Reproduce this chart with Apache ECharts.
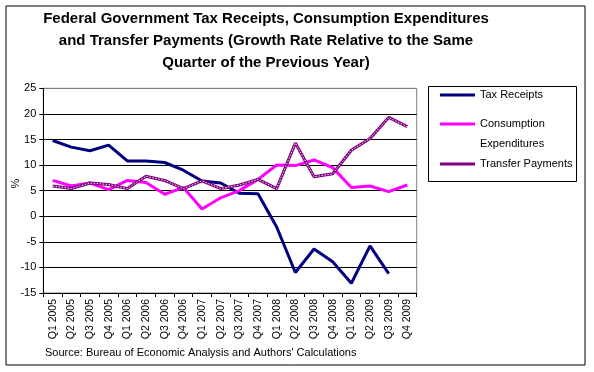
<!DOCTYPE html>
<html><head><meta charset="utf-8">
<script src="https://cdn.jsdelivr.net/npm/echarts@6/dist/echarts.min.js"></script>
<style>html,body{margin:0;padding:0;background:#fff}#c{width:594px;height:372px}</style>
</head><body><div id="c"></div>
<script>
var categories = ['Q1 2005','Q2 2005','Q3 2005','Q4 2005','Q1 2006','Q2 2006','Q3 2006','Q4 2006','Q1 2007','Q2 2007','Q3 2007','Q4 2007','Q1 2008','Q2 2008','Q3 2008','Q4 2008','Q1 2009','Q2 2009','Q3 2009','Q4 2009'];
var taxReceipts = [14.8, 13.5, 12.8, 13.9, 10.8, 10.8, 10.5, 9.0, 6.9, 6.5, 4.5, 4.4, -2.1, -11.0, -6.4, -8.9, -13.1, -5.8, -11.2, null];
var consumptionExpenditures = [7.0, 5.9, 6.5, 5.2, 7.0, 6.6, 4.3, 5.6, 1.4, 3.6, 5.0, 7.2, 10.0, 9.9, 11.0, 9.5, 5.6, 5.9, 4.8, 6.1];
var transferPayments = [5.9, 5.4, 6.5, 6.2, 5.4, 7.8, 7.0, 5.4, 6.9, 5.4, 6.1, 7.2, 5.4, 14.3, 7.7, 8.3, 12.9, 15.2, 19.3, 17.5];
var yTicks = {min: -15, max: 25, interval: 5};
var titleText = 'Federal Government Tax Receipts, Consumption Expenditures\nand Transfer Payments (Growth Rate Relative to the Same\nQuarter of the Previous Year)';
var sourceText = "Source: Bureau of Economic Analysis and Authors' Calculations";

var FONT = '"Liberation Sans", Arial, sans-serif';
var chart = echarts.init(document.getElementById('c'), null, {renderer: 'canvas'});
var splitColors = [];
for (var v = yTicks.min; v <= yTicks.max; v += yTicks.interval) splitColors.push(v === yTicks.max ? '#808080' : '#000000');

var legendCommon = {
  orient: 'vertical', left: 440, padding: 0,
  itemWidth: 35, itemHeight: 3, icon: 'rect',
  textStyle: {fontFamily: FONT, fontSize: 11, color: '#000'}
};

chart.setOption({
  backgroundColor: '#ffffff',
  animation: false,
  textStyle: {fontFamily: FONT},
  title: [{
    text: titleText, left: 266, top: 8, textAlign: 'center', padding: 0,
    textStyle: {fontFamily: FONT, fontSize: 15, fontWeight: 'bold', color: '#000', lineHeight: 22}
  }, {
    text: sourceText, left: 45, top: 347, padding: 0,
    textStyle: {fontFamily: FONT, fontSize: 11, fontWeight: 'normal', color: '#000'}
  }],
  graphic: [{
    type: 'rect', shape: {x: 6, y: 6, width: 579, height: 359},
    style: {fill: null, stroke: '#000', lineWidth: 1}, silent: true
  }, {
    type: 'rect', shape: {x: 428.5, y: 86.5, width: 148, height: 95},
    style: {fill: '#fff', stroke: '#000', lineWidth: 1}, silent: true, z: -1
  }],
  legend: [
    Object.assign({}, legendCommon, {data: ['Tax Receipts'], top: 89.5}),
    Object.assign({}, legendCommon, {
      data: ['Consumption Expenditures'], top: 94,
      formatter: function () { return '\nConsumption\nExpenditures'; },
      textStyle: {fontFamily: FONT, fontSize: 11, color: '#000', lineHeight: 20}
    }),
    Object.assign({}, legendCommon, {data: ['Transfer Payments'], top: 158.5})
  ],
  grid: {left: 43.3, right: 177.3, top: 88.3, bottom: 79, show: true, borderColor: '#808080', borderWidth: 1, backgroundColor: '#fff', outerBoundsMode: 'none', containLabel: false},
  xAxis: {
    type: 'category', data: categories, boundaryGap: true,
    axisLine: {onZero: false, lineStyle: {color: '#000', width: 1}},
    axisTick: {show: true, length: 4, lineStyle: {color: '#000'}},
    axisLabel: {rotate: 90, fontSize: 10.5, color: '#000', fontFamily: FONT, margin: 6, interval: 0}
  },
  yAxis: {
    type: 'value', min: yTicks.min, max: yTicks.max, interval: yTicks.interval,
    name: '%', nameLocation: 'middle', nameGap: 22, nameRotate: 90, nameMoveOverlap: false,
    nameTextStyle: {fontSize: 11, color: '#000', fontFamily: FONT, padding: [0, 0, 0, 14]},
    axisLine: {show: true, lineStyle: {color: '#000', width: 1}},
    axisTick: {show: true, length: 4, lineStyle: {color: '#000'}},
    axisLabel: {fontSize: 11, color: '#000', fontFamily: FONT, margin: 7},
    splitLine: {show: true, lineStyle: {color: splitColors, width: 1}}
  },
  series: [{
    name: 'Tax Receipts', type: 'line', data: taxReceipts, symbol: 'none',
    lineStyle: {color: '#000080', width: 3}, itemStyle: {color: '#000080'}, connectNulls: false
  }, {
    name: 'Consumption Expenditures', type: 'line', data: consumptionExpenditures, symbol: 'none',
    lineStyle: {color: '#ff00ff', width: 3}, itemStyle: {color: '#ff00ff'}
  }, {
    name: 'Transfer Payments', type: 'line', data: transferPayments, symbol: 'none',
    lineStyle: {color: '#800080', width: 3}, itemStyle: {color: '#800080'}
  }, {
    name: 'tp-pattern', type: 'line', data: transferPayments, symbol: 'none', silent: true,
    lineStyle: {color: '#f4e4f4', width: 1, type: [1.5, 1.5]}, itemStyle: {color: '#f4e4f4'}
  }]
});
</script></body></html>
